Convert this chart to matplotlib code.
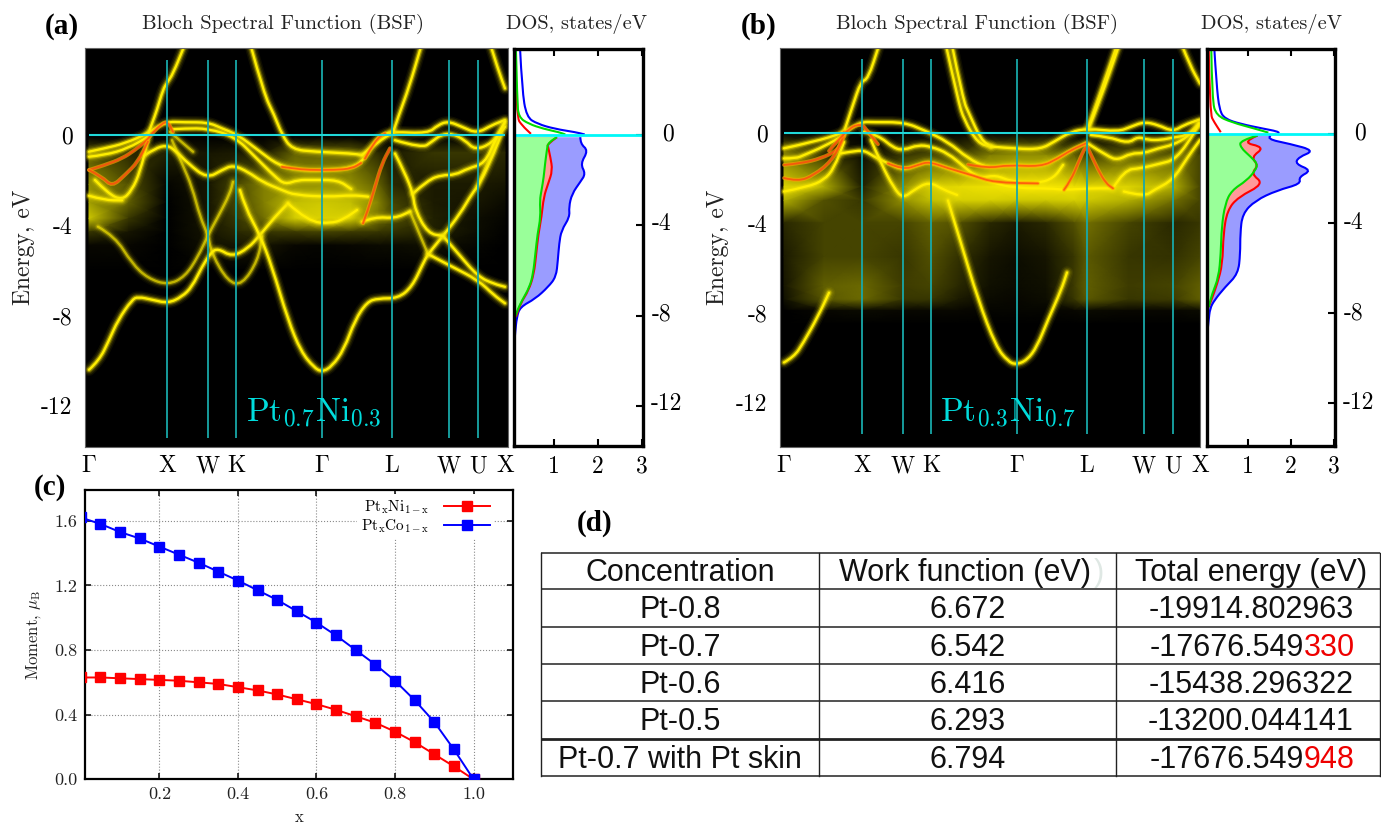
import matplotlib
matplotlib.use("Agg")
import matplotlib.pyplot as plt
from matplotlib.colors import LinearSegmentedColormap
from matplotlib.patches import PathPatch
from matplotlib.path import Path

plt.rcParams["font.family"] = ["cmr10", "DejaVu Serif"]
plt.rcParams["mathtext.fontset"] = "cm"
plt.rcParams["axes.formatter.use_mathtext"] = True

W, H = 1381, 822

# k path, Gamma=0 ... X=416
sym_k = [0, 78.4, 119, 147.4, 233, 303, 360, 389, 416]
sym_names = [r"$\Gamma$", "X", "W", "K", r"$\Gamma$", "L", "W", "U", "X"]
e_ticks = [0, -4, -8, -12]
e_labels = ["0", "-4", "-8", "-12"]

# ---- panel a bands (k, eV)
a_s_left = [(0, -10.4), (10, -10.0), (20, -9.1), (29, -8.2), (43, -7.3), (49, -7.17), (63, -7.3), (79, -7.46),
            (93, -7.17), (103, -6.73), (113, -5.84), (122, -5.2), (129, -5.03), (143, -5.4), (159, -5.03),
            (171, -4.44), (186, -3.63), (199, -3.04)]
a_s_mid = [(151, -2.45), (156, -3.2), (171, -4.44), (183, -5.84), (199, -8.2), (212, -9.6), (225, -10.3), (233, -10.5),
           (243, -10.25), (255, -9.5), (266, -8.2), (278, -7.4), (289, -7.24), (309, -7.24), (323, -6.73), (334, -5.7),
           (339, -5.28), (354, -4.48), (371, -3.5), (383, -2.6), (391, -2.15), (406, -0.68), (412, 0.0)]
a_d_left = [(9, -4.07), (26, -4.5), (43, -5.7), (59, -6.36), (79, -6.65), (96, -6.28), (109, -5.4), (119, -4.44),
            (129, -3.63), (141, -2.6), (144, -2.08)]
a_x_desc = [(83, -0.24), (93, -1.27), (103, -2.3), (111, -3.63), (119, -4.44), (123, -5.3), (139, -6.5), (153, -6.65),
            (169, -5.55), (173, -4.5)]
a_x_faint = [(81, 0.13), (92, -0.3), (104, -0.75)]
a_right_low = [(339, -5.28), (363, -5.84), (389, -6.43), (405, -7.1), (416, -7.46)]
a_right_up = [(354, -4.48), (369, -5.25), (389, -6.28), (405, -6.6), (416, -6.73)]
a_l_desc = [(306, -0.83), (316, -1.7), (324, -2.6), (326, -3.33), (339, -4.37), (354, -4.48)]
a_m_cross = [(321, -3.4), (339, -5.28)]
a_top1 = [(0, -0.75), (16, -0.6), (36, -0.38), (59, 0.06), (76, 0.58), (96, 0.55), (119, 0.55), (133, 0.28),
          (149, -0.01), (169, -0.68), (189, -1.34), (209, -1.56), (233, -1.58), (263, -1.49), (276, -1.05), (286, -0.24),
          (296, 0.06), (304, 0.13), (339, 0.06), (349, 0.43), (359, 0.6), (373, 0.35), (388, 0.06), (403, 0.43),
          (416, 0.65)]
a_top2 = [(84, 0.25), (96, 0.28), (119, 0.28), (146, -0.09), (166, -0.97), (186, -1.86), (196, -2.2), (209, -2.0),
          (223, -2.0), (249, -2.0), (262, -2.4)]
a_top3 = [(0, -0.97), (16, -0.9), (39, -0.6), (59, -0.09)]
a_hump = [(56, -0.9), (66, -0.6), (78, -0.46), (86, -0.68), (99, -1.27), (118, -1.93), (133, -1.56), (144, -1.34),
          (159, -1.64), (173, -2.08), (193, -2.45), (206, -2.67), (240, -2.75), (263, -2.67), (279, -2.74)]
a_left2 = [(6, -2.0), (19, -2.6), (33, -2.9), (43, -2.45), (51, -1.64), (59, -0.24)]
a_left3 = [(0, -2.7), (16, -2.9), (33, -2.9)]
a_sp_gamma = [(162, 3.9), (175, 1.8), (185, 0.9), (193, 0.0), (203, -0.65), (226, -0.75), (263, -0.83), (273, -0.9)]
a_sp_up = [(273, -0.9), (289, -0.3), (304, 0.1)]
a_sp_l = [(304, 0.1), (310, 0.9), (320, 2.1), (332, 3.9)]
a_sp_x = [(59, 0.0), (63, 0.5), (68, 1.1), (74, 2.0), (78, 2.3), (84, 2.7), (95, 3.9)]
a_sp_end = [(402, 3.9), (409, 2.9), (416, 2.05)]
a_central1 = [(199, -3.04), (219, -3.85), (243, -3.92), (256, -3.7), (268, -3.33)]
a_central2 = [(273, -3.85), (286, -3.63), (306, -3.7), (321, -3.4)]
a_right1 = [(306, -0.24), (333, -0.6), (343, -0.3), (352, 0.0), (363, 0.06), (376, -0.24), (386, -0.68), (403, -0.38),
            (416, 0.35)]
a_right2 = [(324, -2.6), (339, -2.0), (353, -1.78), (366, -1.78), (379, -1.49), (396, -1.27), (406, -0.24), (416, 0.58)]
a_right3 = [(388, -2.3), (399, -1.27), (409, -0.09), (416, 0.5)]
a_hot1 = [(0, -1.56), (16, -1.34), (33, -1.05), (46, -0.68), (58, -0.24), (63, 0.06), (73, 0.5), (79, 0.58), (84, 0.13)]
a_hot2 = [(0, -1.56), (13, -1.86), (23, -2.3), (36, -1.78), (49, -1.2), (59, -0.3)]
a_hot3 = [(193, -1.42), (206, -1.5), (219, -1.56), (246, -1.56), (263, -1.49), (272, -1.25)]
a_hot4 = [(274, -3.92), (279, -3.33), (286, -2.3), (293, -1.27), (301, -0.6)]
a_hot5 = [(276, -1.05), (286, -0.24), (296, 0.06)]

# ---- panel b bands (k, eV)
b_s_left = [(0, -10.2), (10, -9.95), (19, -9.35), (34, -8.15), (45, -7.1)]
b_s_mid = [(164, -3.0), (168, -3.6), (177, -4.9), (194, -7.4), (212, -9.5), (224, -10.15), (232, -10.3), (243, -10.1),
           (253, -9.5), (264, -8.3), (277, -7.0), (283, -6.2)]
b_sp1 = [(162, 3.9), (174, 1.47), (180, 0.58), (194, -0.46), (207, -0.6)]
b_sp2 = [(168, 3.9), (179, 1.47), (185, 0.87), (197, -0.31), (207, -0.6)]
b_sp_l = [(304, 0.2), (314, 1.47), (333, 3.9)]
b_sp_l2 = [(305, 0.28), (316, 1.47), (335, 3.9)]
b_sp_x = [(60, 0.05), (68.5, 1.2), (77, 2.3), (84, 2.4), (95, 3.9)]
b_sp_end = [(398, 3.9), (406, 3.0), (416, 2.2)]
b_top1 = [(0, -0.68), (30, -0.39), (60, 0.01), (77, 0.5), (90, 0.48), (120, 0.48), (140, 0.13), (164, -0.39),
          (184, -1.13), (204, -1.57), (224, -1.42), (257, -1.5), (274, -1.13), (287, -0.76), (302, -0.46)]
b_top2 = [(207, -0.6), (234, -0.71), (257, -0.71), (270, -0.39), (287, 0.06), (304, 0.2), (334, 0.06), (347, 0.28),
          (360, 0.5), (374, 0.36), (389, 0.06), (400, 0.36), (416, 0.6)]
b_left1 = [(0, -1.13), (12, -1.13), (20, -0.98), (40, -0.6), (60, -0.09)]
b_left2 = [(0, -2.6), (24, -2.39), (40, -2.09), (50, -1.57), (60, -0.4)]
b_hump = [(57, -0.9), (67, -0.83), (80, -0.76), (90, -1.05), (104, -1.35), (119, -1.64), (134, -1.42), (145, -1.27),
          (164, -1.57), (184, -1.87), (197, -2.0), (212, -1.87), (227, -2.16), (254, -2.24), (270, -2.0), (279, -1.42)]
b_upper = [(80, 0.06), (94, -0.09), (110, -0.68), (120, -0.76), (134, -0.53), (147, -0.6), (164, -0.9), (180, -1.5),
           (190, -1.87), (210, -2.24), (234, -2.46), (267, -2.46), (279, -2.53), (307, -2.46), (327, -2.46)]
b_x_desc = [(87, -0.31), (97, -1.35), (110, -2.46), (119, -2.9), (130, -2.53), (145, -2.16), (160, -2.53), (173, -2.75)]
b_right1 = [(307, -0.09), (324, -0.16), (344, -0.46), (354, -0.16), (364, -0.31), (377, -0.31), (389, -0.2), (404, -0.1),
            (416, 0.4)]
b_right2 = [(305, -0.5), (324, -1.05), (334, -1.2), (347, -0.9), (360, -0.9), (374, -0.68), (389, -0.53), (404, -0.16),
            (415, 0.4)]
b_right3 = [(329, -2.46), (340, -1.64), (357, -1.57), (377, -1.35), (390, -1.2), (404, -0.46), (415, 0.43)]
b_right4 = [(340, -2.6), (360, -2.83), (370, -2.53), (389, -2.09), (404, -1.05), (416, -0.31)]
b_hot1 = [(0, -1.42), (17, -1.35), (37, -1.13), (54, -0.76), (60, -0.16)]
b_hot2 = [(0, -2.0), (14, -2.16), (30, -1.87), (47, -1.27), (57, -0.46), (60, 0.05)]
b_hot3 = [(280, -2.53), (287, -2.09), (294, -1.35), (302, -0.53), (305, -0.76), (314, -1.64), (322, -2.24), (329, -2.46)]
b_hot4 = [(184, -1.4), (204, -1.57), (224, -1.42), (257, -1.5), (274, -1.13), (287, -0.76), (302, -0.46)]
b_hot5 = [(45, -0.8), (62, 0.13), (77, 0.45), (84, 0.05), (94, -0.5)]
b_hot6 = [(104, -1.35), (119, -1.64), (134, -1.42), (145, -1.27), (164, -1.57), (190, -1.9), (210, -2.2), (254, -2.24)]

# diffuse background, cols = k, rows = E
mesh_k = [0, 40, 78, 119, 147, 175, 206, 232, 262, 290, 303, 345, 390, 416]
a_mesh_e = [3.9, -0.1, -0.8, -2.2, -3.0, -3.7, -4.3, -4.9, -6.0, -14]
a_mesh = [[0, 0, 0, 0, 0, 0, 0, 0, 0, 0, 0, 0, 0, 0],
          [0, 0, 0, 0, 0, 0, 0, 0, 0, 0, 0, 0, 0, 0],
          [.3, .15, .12, .08, .1, .1, .35, .35, .35, .15, .1, .2, .2, .15],
          [.5, .3, .02, .08, .25, .45, .5, .5, .5, .35, .15, .1, .1, .08],
          [.55, .35, 0, .08, .25, .45, .65, .7, .65, .45, .25, .1, .08, .04],
          [.7, .2, 0, .08, .2, .4, .75, .78, .75, .4, .3, .12, .05, .02],
          [.2, .08, 0, .08, .15, .2, .22, .25, .22, .2, .18, .12, .04, .01],
          [.03, .03, 0, .06, .08, .08, .03, .02, .03, .04, .04, .06, .02, 0],
          [0, 0, 0, 0, 0, 0, 0, 0, 0, 0, 0, 0, 0, 0],
          [0, 0, 0, 0, 0, 0, 0, 0, 0, 0, 0, 0, 0, 0]]
b_mesh_e = [3.9, 0.0, -1.0, -2.4, -3.0, -4.0, -5.5, -6.8, -7.4, -7.9, -8.5, -14]
b_mesh = [[0, 0, 0, 0, 0, 0, 0, 0, 0, 0, 0, 0, 0, 0],
          [0, 0, 0, 0, 0, 0, 0, 0, 0, 0, 0, 0, 0, 0],
          [.45, .2, .05, .2, .3, .25, .45, .5, .5, .35, .25, .35, .35, .25],
          [.8, .6, .12, .5, .75, .85, .9, .95, .95, .9, .8, .8, .6, .25],
          [.6, .3, .2, .5, .65, .75, .75, .7, .7, .75, .7, .6, .4, .25],
          [.15, .25, .25, .25, .35, .3, .15, .1, .15, .3, .4, .25, .15, .2],
          [.1, .25, .25, .2, .3, .18, .08, .05, .08, .2, .33, .2, .18, .25],
          [.08, .35, .38, .22, .25, .15, .06, .04, .06, .22, .35, .22, .25, .35],
          [.06, .32, .38, .2, .2, .1, .04, .03, .05, .2, .33, .2, .22, .35],
          [0, .03, .04, .03, .03, .03, .02, .02, .02, .03, .04, .03, .03, .04],
          [0, 0, 0, 0, 0, 0, 0, 0, 0, 0, 0, 0, 0, 0],
          [0, 0, 0, 0, 0, 0, 0, 0, 0, 0, 0, 0, 0, 0]]

# ---- DOS, (eV, states/eV)
a_blue_up = [(3.78, .235), (2.02, .28), (.8, .38), (.5, .63), (.28, 1.02), (.13, 1.5), (.03, 1.7)]
a_blue_low = [(-.09, 1.6), (-.38, 1.6), (-.68, 1.78), (-1.27, 1.6), (-1.71, 1.72), (-2.07, 1.6), (-2.6, 1.41),
              (-3.19, 1.34), (-3.63, 1.36), (-4.22, 1.17), (-4.81, 1.12), (-5.55, 1.09), (-6.28, 1.05), (-6.73, .87),
              (-7.25, .58), (-7.62, .235), (-8.06, .16), (-8.8, .12), (-9.4, .1)]
a_green_up = [(3.78, .14), (1.53, .17), (.8, .2), (.5, .43), (.28, .77), (.13, 1.12), (.03, 1.26)]
a_green_low = [(-.09, 1.07), (-.31, .87), (-.68, .84), (-1.27, .8), (-1.86, .77), (-2.45, .72), (-2.89, .68),
               (-3.63, .7), (-4.37, .63), (-5.26, .58), (-6.14, .53), (-6.73, .45), (-7.32, .28), (-7.69, .19),
               (-8.06, .12)]
a_red_up = [(3.78, .12), (.8, .15), (.43, .28), (.06, .48)]
a_red_low = [(-.09, 1.07), (-.4, .85), (-.53, .87), (-.97, .92), (-1.56, .97), (-2.15, .87), (-2.74, .77),
             (-3.63, .72), (-4.37, .65), (-5.26, .6), (-6.14, .55), (-6.88, .43), (-7.47, .24), (-8.06, .14)]

b_blue_up = [(3.8, .23), (2.21, .28), (1.02, .35), (.65, .48), (.43, .83), (.21, 1.38), (.1, 1.68), (.02, 1.73)]
b_blue_low = [(-.09, 1.53), (-.24, 1.43), (-.46, 1.98), (-.76, 2.55), (-1.05, 2.18), (-1.35, 2.1), (-1.64, 2.48),
              (-1.94, 2.18), (-2.24, 2.23), (-2.53, 1.68), (-2.98, 1.18), (-3.57, .88), (-4.46, .83), (-5.35, .83),
              (-6.24, .78), (-6.83, .48), (-7.42, .23), (-7.79, .13), (-8.31, .1), (-9.05, .06)]
b_green_up = [(3.8, .16), (1.47, .18), (.8, .28), (.5, .63), (.21, 1.18), (.04, 1.48)]
b_green_low = [(-.09, 1.23), (-.31, .83), (-.61, .83), (-1.05, 1.08), (-1.35, 1.23), (-1.64, 1.18), (-2.09, .98),
               (-2.53, .63), (-3.13, .48), (-4.16, .4), (-5.35, .38), (-6.39, .33), (-7.13, .18), (-7.72, .1)]
b_red_up = [(3.8, .1), (.87, .13), (.5, .23), (.06, .38)]
b_red_low = [(-.09, 1.23), (-.39, .85), (-.61, 1.4), (-1.05, 1.08), (-1.42, 1.25), (-1.79, 1.08), (-2.24, 1.38),
             (-2.83, .78), (-3.42, .53), (-4.46, .44), (-5.8, .42), (-6.68, .3), (-7.42, .16), (-7.72, .1)]

# ---- panel c
x_conc = [0, .05, .1, .15, .2, .25, .3, .35, .4, .45, .5, .55, .6, .65, .7, .75, .8, .85, .9, .95, 1.0]
moment_ni = [.63, .63, .625, .62, .615, .61, .60, .59, .57, .55, .525, .495, .465, .43, .39, .35, .295, .23, .155,
             .08, 0]
moment_co = [1.62, 1.58, 1.53, 1.49, 1.44, 1.39, 1.34, 1.285, 1.23, 1.17, 1.11, 1.04, .97, .89, .80, .71, .61, .49,
             .355, .185, 0]

# ---- table d
tab_head = ["Concentration", "Work function (eV)", "Total energy (eV)"]
tab_conc = ["Pt-0.8", "Pt-0.7", "Pt-0.6", "Pt-0.5", "Pt-0.7 with Pt skin"]
tab_work = ["6.672", "6.542", "6.416", "6.293", "6.794"]
tab_energy = ["-19914.802963", "-17676.549", "-15438.296322", "-13200.044141", "-17676.549"]
tab_energy_red = ["", "330", "", "", "948"]

glow = LinearSegmentedColormap.from_list("glow", ["#000000", "#5c5a00", "#c8c400", "#ffee00"])


def px_axes(fig, l, t, r, b):
    return fig.add_axes([l / W, 1 - b / H, (r - l) / W, (b - t) / H])


def smooth_path(pts):
    # quadratic curve through the midpoints of the read points
    verts = [pts[0]]
    codes = [Path.MOVETO]
    for i in range(1, len(pts) - 1):
        mid = ((pts[i][0] + pts[i + 1][0]) / 2, (pts[i][1] + pts[i + 1][1]) / 2)
        verts += [pts[i], mid]
        codes += [Path.CURVE3, Path.CURVE3]
    verts.append(pts[-1])
    codes.append(Path.LINETO)
    return Path(verts, codes)


def draw_band(ax, pts, level=1.0):
    p = smooth_path(pts)
    for lw, al in [(9, .06), (7, .10), (5, .2), (3.4, .45)]:
        ax.add_patch(PathPatch(p, fill=False, lw=lw, ec="#f5e400", alpha=al * level, capstyle="round"))
    ax.add_patch(PathPatch(p, fill=False, lw=1.7, ec="#ffee00", alpha=level, capstyle="round"))


def draw_hot(ax, pts):
    p = smooth_path(pts)
    ax.add_patch(PathPatch(p, fill=False, lw=2.8, ec="#ffa000", alpha=.65, capstyle="round"))
    ax.add_patch(PathPatch(p, fill=False, lw=1.3, ec="#ff4a10", alpha=.8, capstyle="round"))


def bsf_panel(fig, left, right, etop, ebot, mesh_e, mesh, bright, dim, hot, name):
    ax = px_axes(fig, left, 48, right, 447)
    ax.set_facecolor("black")
    ax.set_xlim(-4, right - left - 4)
    ax.set_ylim(ebot, etop)
    ax.pcolormesh(mesh_k, mesh_e, mesh, cmap=glow, vmin=0, vmax=1, shading="gouraud")
    for b in dim:
        draw_band(ax, b, .6)
    for b in bright:
        draw_band(ax, b)
    for b in hot:
        draw_hot(ax, b)
    ax.vlines(sym_k[1:-1], -13.4, 3.3, color="#18a8a8", lw=1.3)
    ax.hlines(0, 0, 416, color="#20d8d8", lw=1.5)
    ax.set_xticks(sym_k)
    ax.set_xticklabels(sym_names, fontsize=17)
    ax.set_yticks(e_ticks)
    ax.set_yticklabels(e_labels, fontsize=17)
    ax.tick_params(axis="x", length=0, pad=6)
    ax.tick_params(axis="y", length=0, pad=9)
    for s in ax.spines.values():
        s.set_color("#666666")
        s.set_linewidth(.8)
    ax.text(0.542, 0.085, name, transform=ax.transAxes, color="#00dcdc", fontsize=24, ha="center", va="center")
    return ax


def dos_fill(ax, pts, xmin, color):
    # smooth curve closed along the left edge of the panel
    p = smooth_path([(d, e) for e, d in pts])
    verts = list(p.vertices) + [(xmin, pts[-1][0]), (xmin, pts[0][0]), (xmin, pts[0][0])]
    codes = list(p.codes) + [Path.LINETO, Path.LINETO, Path.CLOSEPOLY]
    ax.add_patch(PathPatch(Path(verts, codes), fc=color, ec="none", lw=0))


def dos_line(ax, pts, color):
    p = smooth_path([(d, e) for e, d in pts])
    ax.add_patch(PathPatch(p, fill=False, ec=color, lw=1.5))


def dos_panel(fig, left, right, xmin, etop, ebot, up, low):
    ax = px_axes(fig, left, 49, right, 446)
    ax.set_xlim(xmin, 3.02)
    ax.set_ylim(ebot, etop)
    cols = ["#0000ff", "#ff0000", "#00dd00"]
    fills = ["#9a9cff", "#ff9a9a", "#99ff99"]
    for f, l in zip(fills, low):
        dos_fill(ax, l, xmin, f)
    for c, u, l in zip(cols, up, low):
        dos_line(ax, l, c)
        dos_line(ax, u, c)
    ax.axhline(0, color="#00f8f8", lw=2)
    ax.set_xticks([1, 2, 3])
    ax.set_xticklabels(["1", "2", "3"], fontsize=17)
    ax.tick_params(axis="x", direction="in", top=True, length=5, width=1.5, pad=7)
    ax.set_yticks(e_ticks)
    ax.set_yticklabels([])
    ax.tick_params(axis="y", direction="in", right=True, left=False, length=5, width=1.5)
    for s in ax.spines.values():
        s.set_linewidth(2.4)
    return ax


fig = plt.figure(figsize=(W / 100, H / 100), dpi=100, facecolor="white")

bsf_panel(fig, 85, 507.5, 3.84, -13.82, a_mesh_e, a_mesh,
          [a_s_left, a_s_mid, a_top1, a_top2, a_hump, a_sp_gamma, a_sp_up, a_sp_l, a_sp_x, a_sp_end, a_left2, a_left3,
           a_top3, a_central1, a_central2, a_right1, a_right2, a_right_low, a_right_up, a_l_desc],
          [a_d_left, a_x_desc, a_x_faint, a_m_cross, a_right3],
          [a_hot1, a_hot2, a_hot3, a_hot4, a_hot5], r"$\mathrm{Pt_{0.7}Ni_{0.3}}$")
dos_panel(fig, 513.5, 643, .085, 3.82, -13.78, [a_blue_up, a_red_up, a_green_up], [a_blue_low, a_red_low, a_green_low])

bsf_panel(fig, 780, 1200, 3.78, -13.96, b_mesh_e, b_mesh,
          [b_s_mid, b_s_left, b_sp1, b_sp2, b_sp_l, b_sp_l2, b_sp_x, b_sp_end, b_top1, b_top2, b_left1, b_left2,
           b_hump, b_upper, b_x_desc, b_right1, b_right2, b_right3, b_right4], [],
          [b_hot1, b_hot2, b_hot3, b_hot4, b_hot5, b_hot6], r"$\mathrm{Pt_{0.3}Ni_{0.7}}$")
dos_panel(fig, 1206.5, 1335, .05, 3.76, -13.9, [b_blue_up, b_red_up, b_green_up], [b_blue_low, b_red_low, b_green_low])

# panel c
axc = px_axes(fig, 84.5, 490, 512.8, 779.3)
axc.plot(x_conc, moment_ni, color="#ff0000", marker="s", ms=6.5, lw=1.4, label=r"$\mathrm{Pt_xNi_{1-x}}$", zorder=3)
axc.plot(x_conc, moment_co, color="#0000ff", marker="s", ms=6.5, lw=1.4, label=r"$\mathrm{Pt_xCo_{1-x}}$", zorder=3)
axc.set_xlim(0.0095, 1.1)
axc.set_ylim(0, 1.79)
axc.set_xticks([.2, .4, .6, .8, 1.0])
axc.set_xticklabels(["0.2", "0.4", "0.6", "0.8", "1.0"], fontsize=13, color="#222222")
axc.set_yticks([0, .4, .8, 1.2, 1.6])
axc.set_yticklabels(["0.0", "0.4", "0.8", "1.2", "1.6"], fontsize=13, color="#222222")
axc.tick_params(direction="in", top=True, right=True, length=4, width=1.1, pad=5)
axc.grid(True, color="#8a8a8a", lw=.8, ls=":")
axc.set_axisbelow(True)
for s in axc.spines.values():
    s.set_linewidth(1.6)
axc.legend(loc="upper right", bbox_to_anchor=(0.955, 0.985), frameon=True, framealpha=1, edgecolor="none",
           fontsize=11, markerfirst=False, handlelength=3.0, labelspacing=.1, borderpad=.25, borderaxespad=0,
           handletextpad=1.0)

# text and table, in figure pixels
ov = fig.add_axes([0, 0, 1, 1], zorder=5)
ov.set_xlim(0, W)
ov.set_ylim(H, 0)
ov.axis("off")

serif = "Liberation Serif"
for s, x, y in [("(a)", 62, 26), ("(b)", 759, 26), ("(c)", 50, 487), ("(d)", 595, 523)]:
    ov.text(x, y, s, family=serif, weight="bold", fontsize=21, ha="center", va="center")
for x0, x1 in [(283, 577), (977, 1272)]:
    ov.text(x0, 24, "Bloch Spectral Function (BSF)", fontsize=14.9, ha="center", va="center", color="#222222")
    ov.text(x1, 24, "DOS, states/eV", fontsize=14.7, ha="center", va="center", color="#222222")
for x in [24, 718]:
    ov.text(x, 247, "Energy, eV", fontsize=17, rotation=90, ha="center", va="center", color="#222222")
for s, ya, yb in zip(e_labels, [134, 224, 314, 404], [133, 223, 313, 403]):
    ha_x = {"0": 668, "-4": 662, "-8": 662, "-12": 667}[s]
    ov.text(ha_x, ya, s, fontsize=17, ha="center", va="center")
    ov.text(ha_x + 692, yb, s, fontsize=17, ha="center", va="center")
ov.text(34, 635, r"Moment, $\mu_\mathrm{B}$", fontsize=12, rotation=90, ha="center", va="center", color="#222222")
ov.text(299, 817, "x", fontsize=12, ha="center", va="center", color="#222222")

row_y = [552.5, 589, 626.5, 663.5, 701, 738.5, 775.5]
col_x = [541, 819.5, 1116.5, 1380]
for i, y in enumerate(row_y):
    ov.plot(col_x[::3], [y, y], color="#222222", lw=2.0 if i == 5 else 1.1, solid_capstyle="butt")
for x in col_x:
    ov.plot([x, x], [row_y[0], row_y[-1]], color="#222222", lw=1.0)

sans = "Liberation Sans"
tsize = 22
for s, x in zip(tab_head, [680, 965, 1251]):
    ov.text(x, 569.5, s, family=sans, fontsize=tsize, ha="center", va="center_baseline", color="#111111")
ov.text(1099, 569.5, ")", family=sans, fontsize=tsize, ha="center", va="center_baseline", color="#dfe8e4")
for i in range(5):
    y = (row_y[i + 1] + row_y[i + 2]) / 2 - 1
    ov.text(680, y, tab_conc[i], family=sans, fontsize=tsize, ha="center", va="center_baseline", color="#111111")
    ov.text(968, y, tab_work[i], family=sans, fontsize=tsize, ha="center", va="center_baseline", color="#111111")
    if tab_energy_red[i]:
        ov.text(1304, y, tab_energy[i], family=sans, fontsize=tsize, ha="right", va="center_baseline", color="#111111")
        ov.text(1304, y, tab_energy_red[i], family=sans, fontsize=tsize, ha="left", va="center_baseline",
                color="#ee0000")
    else:
        ov.text(1251, y, tab_energy[i], family=sans, fontsize=tsize, ha="center", va="center_baseline",
                color="#111111")

fig.savefig("out.png", dpi=100)
